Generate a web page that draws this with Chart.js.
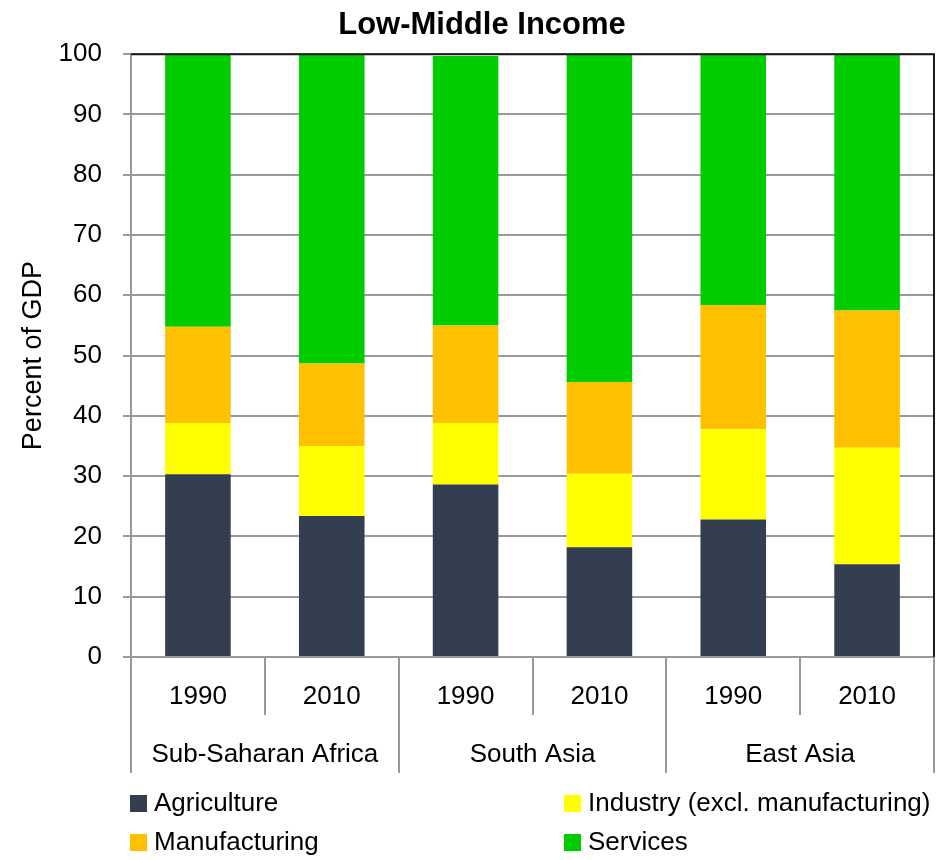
<!DOCTYPE html>
<html>
<head>
<meta charset="utf-8">
<script src="https://cdn.jsdelivr.net/npm/chart.js@4.4.0/dist/chart.umd.min.js"></script>
<style>
  html, body { margin: 0; padding: 0; background: #fff; }
  #wrap { width: 945px; height: 860px; position: relative; }
</style>
</head>
<body>
<div id="wrap"><canvas id="chart"></canvas></div>
<script>
// ===== Data =====
const years = ['1990', '2010', '1990', '2010', '1990', '2010'];
const regions = ['Sub-Saharan Africa', 'South Asia', 'East Asia'];

const agriculture   = [30.3, 23.4, 28.6, 18.2, 22.8, 15.4];
const industry      = [8.5, 11.6, 10.2, 12.2, 15.0, 19.3];
const manufacturing = [16.0, 13.7, 16.2, 15.2, 20.6, 22.8];
const services      = [45.2, 51.3, 44.7, 54.4, 41.6, 42.5];

const yTicks = [0, 10, 20, 30, 40, 50, 60, 70, 80, 90, 100];

// ===== Style =====
const FONT = "'Liberation Sans', Arial, sans-serif";
const GRID = '#999999';

// frame: black top/right border
const framePlugin = {
    id: 'frame',
    afterDatasetsDraw(chart) {
        const { ctx, chartArea: a } = chart;
        ctx.save();
        ctx.strokeStyle = '#1a1a1a';
        ctx.lineWidth = 2;
        ctx.beginPath();
        ctx.moveTo(a.left, a.top);
        ctx.lineTo(a.right, a.top);
        ctx.lineTo(a.right, a.bottom);
        ctx.stroke();
        ctx.restore();
    }
};

// legend in two columns (column-major like the original)
const legendPlugin = {
    id: 'twoColLegend',
    afterDraw(chart) {
        const { ctx } = chart;
        const colX = [130, 564];
        const rowY = [803, 842];
        ctx.save();
        ctx.font = `26px ${FONT}`;
        ctx.textBaseline = 'middle';
        chart.data.datasets.forEach((ds, i) => {
            const x = colX[i % 2];
            const y = rowY[Math.floor(i / 2)];
            ctx.fillStyle = ds.backgroundColor;
            ctx.fillRect(x, y - 8, 17, 17);
            ctx.fillStyle = '#000';
            ctx.fillText(ds.label, x + 24, y + 1);
        });
        ctx.restore();
    }
};

const ctx = document.getElementById('chart').getContext('2d');
new Chart(ctx, {
    type: 'bar',
    data: {
        labels: years,
        datasets: [
            { label: 'Agriculture', data: agriculture, backgroundColor: '#333F50' },
            { label: 'Industry (excl. manufacturing)', data: industry, backgroundColor: '#FFFF00' },
            { label: 'Manufacturing', data: manufacturing, backgroundColor: '#FFC000' },
            { label: 'Services', data: services, backgroundColor: '#00CC00' }
        ]
    },
    options: {
        responsive: true,
        maintainAspectRatio: false,
        animation: false,
        layout: { padding: { left: 30, right: 11, top: 0, bottom: 87 } },
        datasets: { bar: { barPercentage: 0.49, categoryPercentage: 1 } },
        plugins: {
            legend: { display: false },
            tooltip: { enabled: false },
            title: {
                display: true,
                text: 'Low-Middle Income',
                color: '#000',
                font: { family: FONT, size: 31, weight: 'bold' },
                padding: { top: 7, bottom: 10 }
            }
        },
        scales: {
            x: {
                stacked: true,
                offset: true,
                grid: { offset: true, drawOnChartArea: false, tickLength: 58, color: GRID, lineWidth: 2 },
                border: { color: GRID, width: 2 },
                ticks: { color: '#000', font: { family: FONT, size: 26 }, padding: -34, maxRotation: 0 },
                afterFit: (s) => { s.height = 58; }
            },
            x2: {
                type: 'category',
                labels: regions,
                position: 'bottom',
                offset: true,
                grid: { offset: true, drawOnChartArea: false, tickLength: 58, color: GRID, lineWidth: 2 },
                border: { display: false },
                ticks: { color: '#000', font: { family: FONT, size: 26 }, padding: -34, maxRotation: 0 },
                afterFit: (s) => { s.height = 58; }
            },
            y: {
                stacked: true,
                min: 0,
                max: 100,
                afterBuildTicks: (s) => { s.ticks = yTicks.map(v => ({ value: v })); },
                grid: { color: GRID, lineWidth: 2, tickLength: 8 },
                border: { color: GRID, width: 2 },
                ticks: { color: '#000', font: { family: FONT, size: 26 }, padding: 21 },
                title: {
                    display: true,
                    text: 'Percent of GDP',
                    color: '#000',
                    font: { family: FONT, size: 27 },
                    padding: { top: -13, bottom: 0 }
                },
                afterFit: (s) => { s.width = 101; }
            }
        }
    },
    plugins: [framePlugin, legendPlugin]
});
</script>
</body>
</html>
